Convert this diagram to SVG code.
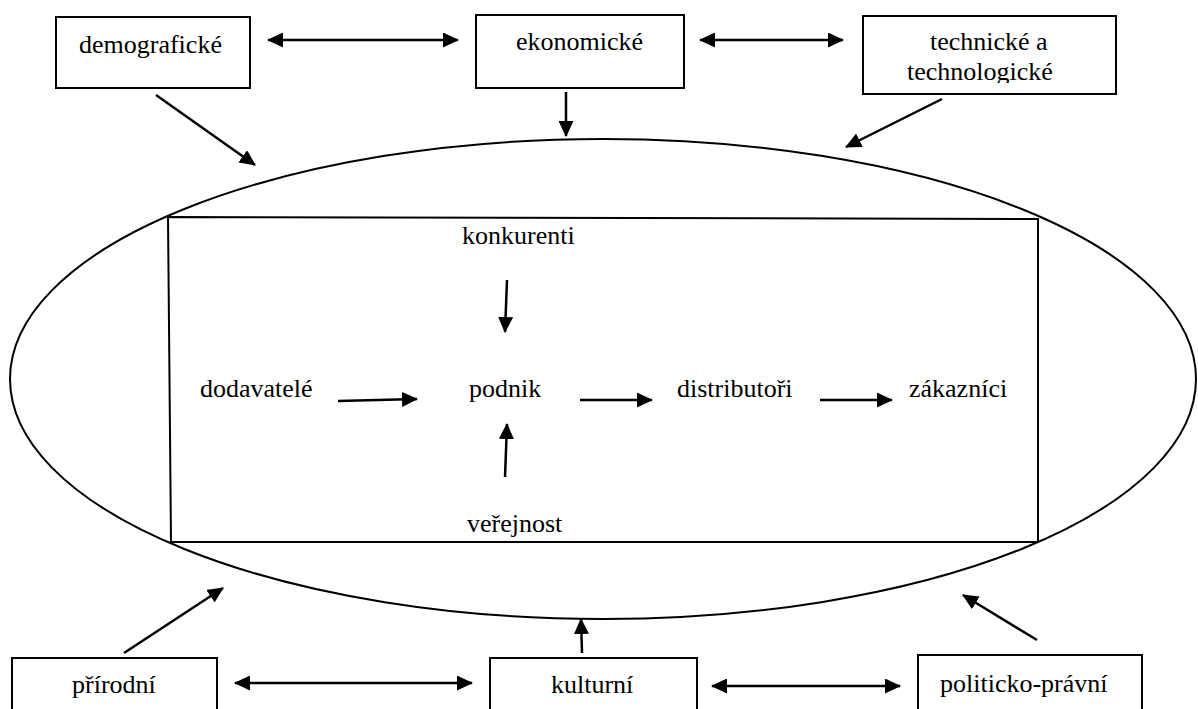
<svg xmlns="http://www.w3.org/2000/svg" width="1198" height="709" viewBox="0 0 1198 709">
<style>
text{font-family:"Liberation Serif","Times New Roman",serif;font-size:26px;fill:#000}
.box{fill:#fff;stroke:#000;stroke-width:2}
.arr{fill:none;stroke:#000;stroke-width:2.5}
.one{marker-end:url(#ah)}
.two{marker-start:url(#ah);marker-end:url(#ah)}
</style>
<defs>
<marker id="ah" markerUnits="userSpaceOnUse" viewBox="0 0 16 15" markerWidth="16" markerHeight="15" refX="15" refY="7.5" orient="auto-start-reverse">
<path d="M0,0 L16,7.5 L0,15 z" fill="#000"/>
</marker>
<clipPath id="clipTech"><rect x="864" y="17" width="251" height="66"/></clipPath>
</defs>
<rect width="1198" height="709" fill="#fff"/>
<g id="environment">
<ellipse cx="603" cy="379" rx="593" ry="240" fill="none" stroke="#000" stroke-width="2"/>
<path d="M168,217 L1038,219 L1038,542 L171,542 Z" fill="none" stroke="#000" stroke-width="2"/>
</g>
<g id="demograficke"><rect class="box" x="56" y="17" width="194" height="71"/><text x="79" y="53">demografické</text></g>
<g id="ekonomicke"><rect class="box" x="476" y="15" width="208" height="73"/><text x="516" y="50">ekonomické</text></g>
<g id="technicke"><rect class="box" x="863" y="16" width="253" height="78"/><text x="930" y="50">technické a</text><text x="907" y="80" clip-path="url(#clipTech)">technologické</text></g>
<g id="konkurenti"><text x="462" y="244">konkurenti</text></g>
<g id="dodavatele"><text x="200" y="397">dodavatelé</text></g>
<g id="podnik"><text x="469" y="397">podnik</text></g>
<g id="distributori"><text x="677" y="397">distributoři</text></g>
<g id="zakaznici"><text x="909" y="397">zákazníci</text></g>
<g id="verejnost"><text x="467" y="532">veřejnost</text></g>
<g id="prirodni"><rect class="box" x="12" y="658" width="205" height="70"/><text x="72" y="693">přírodní</text></g>
<g id="kulturni"><rect class="box" x="490" y="658" width="207" height="70"/><text x="551" y="693">kulturní</text></g>
<g id="politicko"><rect class="box" x="918" y="655" width="224" height="70"/><text x="940" y="692">politicko-právní</text></g>
<g id="connectors">
<line class="arr two" x1="268" y1="40" x2="458" y2="40"/>
<line class="arr two" x1="700" y1="40" x2="843" y2="40"/>
<line class="arr one" x1="156" y1="95" x2="255" y2="165"/>
<line class="arr one" x1="566" y1="92" x2="566" y2="136"/>
<line class="arr one" x1="942" y1="99" x2="846" y2="147"/>
<line class="arr one" x1="507" y1="280" x2="505" y2="332"/>
<line class="arr one" x1="338" y1="401" x2="417" y2="399"/>
<line class="arr one" x1="580" y1="400" x2="652" y2="400"/>
<line class="arr one" x1="820" y1="400" x2="892" y2="400"/>
<line class="arr one" x1="505" y1="477" x2="507" y2="424"/>
<line class="arr one" x1="124" y1="653" x2="223" y2="588"/>
<line class="arr one" x1="582" y1="653" x2="581" y2="619"/>
<line class="arr one" x1="1037" y1="640" x2="963" y2="595"/>
<line class="arr two" x1="235" y1="683" x2="472" y2="683"/>
<line class="arr two" x1="712" y1="686" x2="900" y2="686"/>
</g>
</svg>
